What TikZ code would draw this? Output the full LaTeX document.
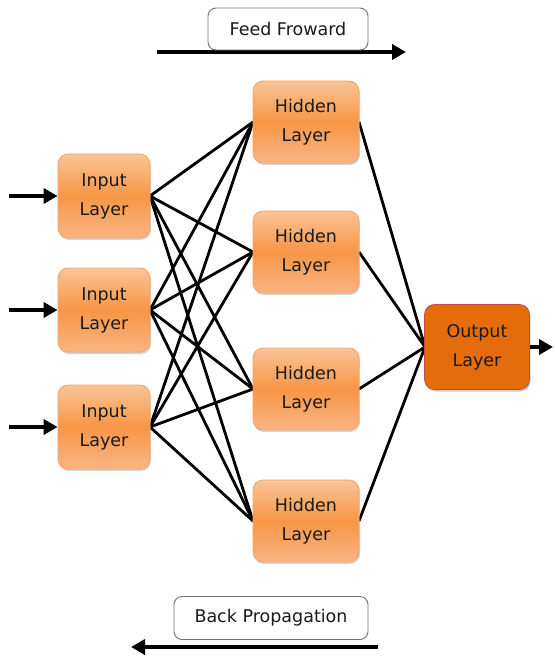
\documentclass[tikz,border=0pt]{standalone}
\usepackage{fontspec}
\setmainfont{DejaVu Sans}
\usetikzlibrary{arrows.meta,shadows}
\definecolor{txt}{HTML}{1A1A1A}
\definecolor{otop}{HTML}{FAC497}
\definecolor{omid}{HTML}{F79646}
\definecolor{obot}{HTML}{F9B583}
\definecolor{oborder}{HTML}{F5A468}
\definecolor{outfill}{HTML}{E46C0A}
\definecolor{outborder}{HTML}{C0504D}
\tikzset{
  layerbox/.style={rounded corners=10pt, minimum width=92pt, minimum height=84pt,
    draw=oborder, line width=0.8pt, top color=otop, bottom color=obot, middle color=omid,
    align=center, font=\fontsize{17.5}{29}\selectfont, text=txt,
    drop shadow={shadow xshift=1pt, shadow yshift=-2pt, opacity=0.35}},
  hidbox/.style={layerbox, minimum width=106pt, minimum height=82pt},
  outbox/.style={rounded corners=10pt, minimum width=105pt, minimum height=85pt,
    draw=outborder, line width=0.8pt, fill=outfill,
    align=center, font=\fontsize{17.5}{29}\selectfont, text=txt,
    drop shadow={shadow xshift=1pt, shadow yshift=-2pt, opacity=0.4}},
  labelbox/.style={rounded corners=8pt, draw=black!55, line width=0.9pt, fill=white,
    font=\fontsize{17.5}{20}\selectfont, text=txt},
  conn/.style={line width=2.8pt, black},
  bigarrow/.style={line width=4pt, black, -{Triangle[length=14pt,width=15pt]}},
}
\begin{document}
\begin{tikzpicture}[x=1pt,y=-1pt]
\useasboundingbox (0,0) rectangle (554,660);
% arrows under label boxes
\coordinate (ffs) at (157,52);
\coordinate (ffe) at (406,52);
\coordinate (bps) at (378,647);
\coordinate (bpe) at (131,647);
\draw[bigarrow] (ffs) -- (ffe);
\draw[bigarrow] (bps) -- (bpe);
\node[labelbox, minimum width=160pt, minimum height=42pt] (ff) at (288,29) {Feed Froward};
\node[labelbox, minimum width=194pt, minimum height=43pt] (bp) at (271,618) {Back Propagation};
% connectors
\coordinate (i1) at (150,196);
\coordinate (i2) at (150,310);
\coordinate (i3) at (150,427);
\coordinate (h1w) at (253,122);
\coordinate (h2w) at (253,252);
\coordinate (h3w) at (253,389);
\coordinate (h4w) at (253,521);
\coordinate (h1e) at (359,122);
\coordinate (h2e) at (359,252);
\coordinate (h3e) at (359,389);
\coordinate (h4e) at (359,521);
\coordinate (ow) at (425,347);
\foreach \a in {i1,i2,i3}{
  \foreach \b in {h1w,h2w,h3w,h4w}{
    \draw[conn] (\a) -- (\b);
  }
}
\foreach \b in {h1e,h2e,h3e,h4e}{
  \draw[conn] (\b) -- (ow);
}
% nodes
\node[layerbox] (in1) at (104,196) {Input\\Layer};
\node[layerbox] (in2) at (104,310) {Input\\Layer};
\node[layerbox] (in3) at (104,427) {Input\\Layer};
\node[hidbox] (hd1) at (306,122) {Hidden\\Layer};
\node[hidbox] (hd2) at (306,252) {Hidden\\Layer};
\node[hidbox] (hd3) at (306,389) {Hidden\\Layer};
\node[hidbox] (hd4) at (306,521) {Hidden\\Layer};
\node[outbox] (out) at (477,347) {Output\\Layer};
% input / output arrows
\coordinate (a1) at (9,196);
\coordinate (a2) at (9,310);
\coordinate (a3) at (9,427);
\coordinate (oe) at (553,347);
\draw[bigarrow] (a1) -- (in1.west);
\draw[bigarrow] (a2) -- (in2.west);
\draw[bigarrow] (a3) -- (in3.west);
\draw[bigarrow] (out.east) -- (oe);
\end{tikzpicture}
\end{document}
